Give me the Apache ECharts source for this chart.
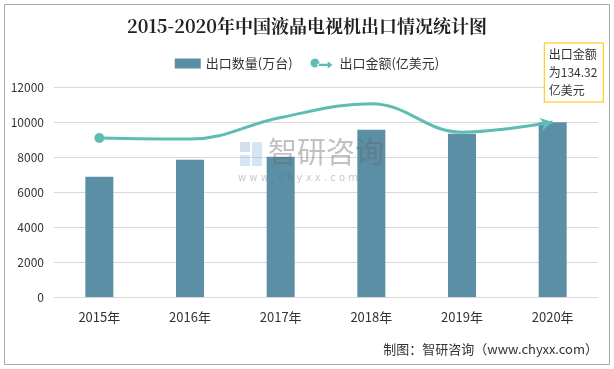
<!DOCTYPE html>
<html><head><meta charset="utf-8">
<script src="https://cdn.jsdelivr.net/npm/echarts@6/dist/echarts.min.js"></script>
<style>html,body{margin:0;padding:0;background:#fff}#c{width:614px;height:369px}</style>
</head><body><div id="c"></div>
<script>
const categories = ['2015年','2016年','2017年','2018年','2019年','2020年'];
const exportQty = [6870, 7850, 8020, 9560, 9330, 9980];          // 出口数量(万台)
const exportValue = [122.0, 121.2, 137.8, 148.4, 126.5, 134.32];  // 出口金额(亿美元)
const yTicks = [0, 2000, 4000, 6000, 8000, 10000, 12000];
const calloutText = '出口金额\n为134.32\n亿美元';

const chart = echarts.init(document.getElementById('c'), null, {renderer:'canvas'});
const lastIdx = exportValue.length - 1;
const lineData = exportValue.map((v, i) => {
  const d = {value: v};
  if (i === 0) { d.symbol = 'circle'; d.symbolSize = 10; }
  else if (i === lastIdx) {
    d.symbol = 'arrow'; d.symbolSize = [10, 12]; d.symbolRotate = -78;
    d.label = {
      show: true, position: 'top', distance: 14, offset: [-2, 0],
      formatter: calloutText, color: '#333', fontSize: 12, lineHeight: 18,
      fontFamily: 'Noto Sans CJK SC', align: 'left',
      backgroundColor: '#fff', borderColor: '#FFC000', borderWidth: 1,
      padding: [2, 4, 2, 4], width: 50
    };
    d.labelLine = {show: true, lineStyle: {color: '#FFC000', width: 1}};
  } else { d.symbol = 'none'; }
  return d;
});

chart.setOption({
  animation: false,
  backgroundColor: '#fff',
  textStyle: {fontFamily: 'Noto Sans CJK SC'},
  title: {
    text: '2015-2020年中国液晶电视机出口情况统计图',
    left: 'center', top: 12,
    textStyle: {fontFamily: 'Noto Serif CJK SC, Noto Sans CJK SC', fontWeight: 'bold', fontSize: 18, color: '#222'}
  },
  legend: {
    top: 52, left: 'center', itemGap: 18, itemWidth: 26, itemHeight: 10,
    textStyle: {color: '#333', fontSize: 13},
    data: [
      {name: '出口数量(万台)', icon: 'rect', itemWidth: 24, itemHeight: 9},
      {name: '出口金额(亿美元)', icon: 'path://M0,5 A5,5 0 1,0 10,0 A5,5 0 1,0 0,5 Z M8,3.6 L21,3.6 L21,0.5 L27,5 L21,9.5 L21,6.4 L8,6.4 Z', itemStyle: {color: '#5DBDB4'}}
    ]
  },
  grid: {left: 54, right: 16, top: 87, bottom: 72},
  xAxis: {
    type: 'category', data: categories,
    axisLine: {lineStyle: {color: '#d9d9d9', width: 1}},
    axisTick: {show: false},
    axisLabel: {color: '#333', fontSize: 13, margin: 14}
  },
  yAxis: [{
    type: 'value', min: yTicks[0], max: yTicks[yTicks.length - 1], interval: 2000,
    axisLine: {show: false}, axisTick: {show: false},
    axisLabel: {color: '#333', fontSize: 12, margin: 10, formatter: v => String(v)},
    splitLine: {lineStyle: {color: '#d9d9d9'}}
  }, {
    type: 'value', min: 0, max: 134.32 * 1.2, show: false, splitLine: {show: false}
  }],
  series: [{
    name: '出口数量(万台)', type: 'bar', data: exportQty, barWidth: 28,
    itemStyle: {color: '#5B8FA5'}
  }, {
    name: '出口金额(亿美元)', type: 'line', yAxisIndex: 1, data: lineData,
    smooth: 0.4, symbolKeepAspect: true,
    lineStyle: {color: '#5DBDB4', width: 3},
    itemStyle: {color: '#5DBDB4'}
  }],
  graphic: [
    {type: 'rect', shape: {x: 4.5, y: 4.5, width: 605, height: 360}, style: {fill: 'none', stroke: '#aaa', lineWidth: 1}, silent: true},
    {type: 'rect', shape: {x: 240, y: 142, width: 10, height: 10}, style: {fill: 'rgba(150,170,200,0.4)'}, z: 100, silent: true},
    {type: 'rect', shape: {x: 252, y: 142, width: 10, height: 24}, style: {fill: 'rgba(150,190,225,0.4)'}, z: 100, silent: true},
    {type: 'rect', shape: {x: 240, y: 155, width: 10, height: 11}, style: {fill: 'rgba(150,190,225,0.4)'}, z: 100, silent: true},
    {type: 'text', left: 268, top: 137, style: {text: '智研咨询', fill: 'rgba(100,100,100,0.4)', font: '29px "Noto Sans CJK SC"'}, z: 100, silent: true},
    {type: 'text', left: 238, top: 173, style: {text: 'w w w . c h y x x . c o m', fill: 'rgba(100,100,100,0.35)', font: '10px "DejaVu Sans"'}, z: 100, silent: true},
    {type: 'text', right: 16, top: 343, style: {text: '制图：智研咨询（www.chyxx.com）', fill: '#333', font: '13px "Noto Sans CJK SC"'}, silent: true}
  ]
});
</script></body></html>
